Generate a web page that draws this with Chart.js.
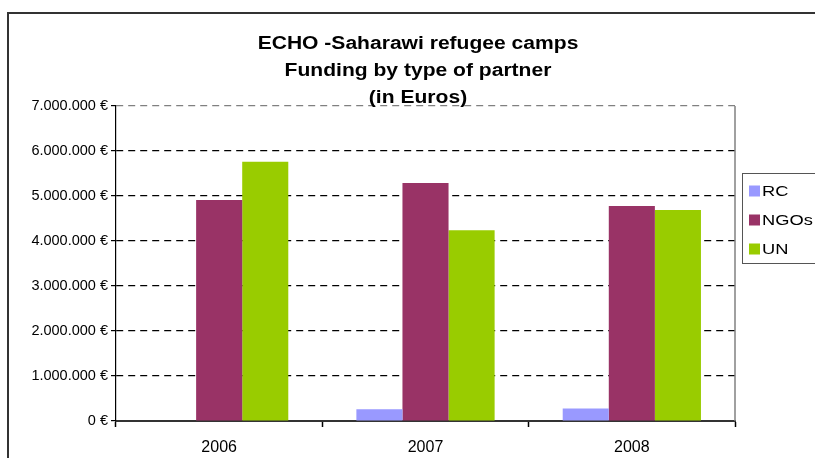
<!DOCTYPE html>
<html>
<head>
<meta charset="utf-8">
<script src="https://cdn.jsdelivr.net/npm/chart.js@4/dist/chart.umd.min.js"></script>
<style>
  html, body { margin: 0; padding: 0; background: #fff; }
  #wrap { width: 815px; height: 458px; }
</style>
</head>
<body>
<div id="wrap"><canvas id="fundingChart" width="815" height="458"></canvas></div>
<script>
const categories = ["2006", "2007", "2008"];
const seriesNames = ["RC", "NGOs", "UN"];
const rcValues = [0, 260000, 280000];
const ngoValues = [4910000, 5290000, 4780000];
const unValues = [5760000, 4240000, 4690000];
const seriesColors = ["#9999FF", "#993366", "#99CC00"];
const titleLines = ["ECHO -Saharawi refugee camps", "Funding by type of partner", "(in Euros)"];
const yMax = 7000000;
const yStep = 1000000;

function euro(v) {
  return String(v).replace(/\B(?=(\d{3})+(?!\d))/g, ".") + " €";
}

// frame, title, legend and plot border drawn by hand
const decorations = {
  id: "decorations",
  beforeDraw(chart) {
    const ctx = chart.ctx;
    ctx.save();
    ctx.fillStyle = "#fff";
    ctx.fillRect(0, 0, chart.width, chart.height);
    ctx.strokeStyle = "#333";
    ctx.lineWidth = 2;
    ctx.strokeRect(8, 13, chart.width + 20, chart.height + 20);
    ctx.restore();
  },
  afterDraw(chart) {
    const ctx = chart.ctx;
    const a = chart.chartArea;
    ctx.save();
    // right border of plot area
    ctx.strokeStyle = "#808080";
    ctx.lineWidth = 1.5;
    ctx.beginPath();
    ctx.moveTo(a.right, a.top);
    ctx.lineTo(a.right, a.bottom);
    ctx.stroke();

    // title
    ctx.fillStyle = "#000";
    ctx.font = "bold 18px 'Liberation Sans', Arial, sans-serif";
    ctx.textAlign = "center";
    ctx.textBaseline = "middle";
    const ys = [44, 71, 98];
    titleLines.forEach((t, i) => {
      ctx.save();
      ctx.translate(418, ys[i]);
      ctx.scale(1.17, 1);
      ctx.fillText(t, 0, 0);
      ctx.restore();
    });

    // legend
    ctx.fillStyle = "#fff";
    ctx.fillRect(742, 173, 80, 90);
    ctx.strokeStyle = "#555";
    ctx.lineWidth = 1;
    ctx.strokeRect(742.5, 173.5, 80, 90);
    ctx.font = "15px 'Liberation Sans', Arial, sans-serif";
    ctx.textAlign = "left";
    chart.data.datasets.forEach((ds, i) => {
      const cy = 191 + i * 29;
      ctx.fillStyle = ds.backgroundColor;
      ctx.fillRect(749, cy - 5.5, 11, 11);
      ctx.fillStyle = "#000";
      ctx.save();
      ctx.translate(762, cy + 0.5);
      ctx.scale(1.22, 1);
      ctx.fillText(ds.label, 0, 0);
      ctx.restore();
    });
    ctx.restore();
  }
};

new Chart(document.getElementById("fundingChart"), {
  type: "bar",
  data: {
    labels: categories,
    datasets: [
      { label: seriesNames[0], data: rcValues, backgroundColor: seriesColors[0] },
      { label: seriesNames[1], data: ngoValues, backgroundColor: seriesColors[1] },
      { label: seriesNames[2], data: unValues, backgroundColor: seriesColors[2] }
    ]
  },
  options: {
    responsive: false,
    animation: false,
    events: [],
    layout: { padding: { top: 106, right: 80, left: 0, bottom: 0 } },
    datasets: {
      bar: { categoryPercentage: 0.67, barPercentage: 1, borderWidth: 0 }
    },
    plugins: {
      legend: { display: false },
      title: { display: false },
      tooltip: { enabled: false }
    },
    scales: {
      x: {
        afterFit(scale) { scale.height = 37; },
        grid: {
          drawOnChartArea: false,
          drawTicks: true,
          tickLength: 6,
          tickColor: "#000",
          tickWidth: 1.5
        },
        border: { display: true, color: "#333", width: 2 },
        ticks: {
          color: "#000",
          padding: 11,
          font: { family: "'Liberation Sans', Arial, sans-serif", size: 16 }
        }
      },
      y: {
        min: 0,
        max: yMax,
        afterFit(scale) { scale.width = 116; },
        grid: {
          color: (c) => {
            const v = c.tick ? c.tick.value : null;
            if (v === 0) return "rgba(0,0,0,0)";
            if (v === yMax) return "#808080";
            return "#000";
          },
          lineWidth: 1.2,
          drawTicks: true,
          tickLength: 5,
          tickColor: "#000",
          tickBorderDash: []
        },
        border: { display: true, color: "#000", width: 1.2, dash: [7, 5] },
        ticks: {
          stepSize: yStep,
          color: "#000",
          padding: 3,
          font: { family: "'Liberation Sans', Arial, sans-serif", size: 14.5 },
          callback: (v) => euro(v)
        }
      }
    }
  },
  plugins: [decorations]
});
</script>
</body>
</html>
